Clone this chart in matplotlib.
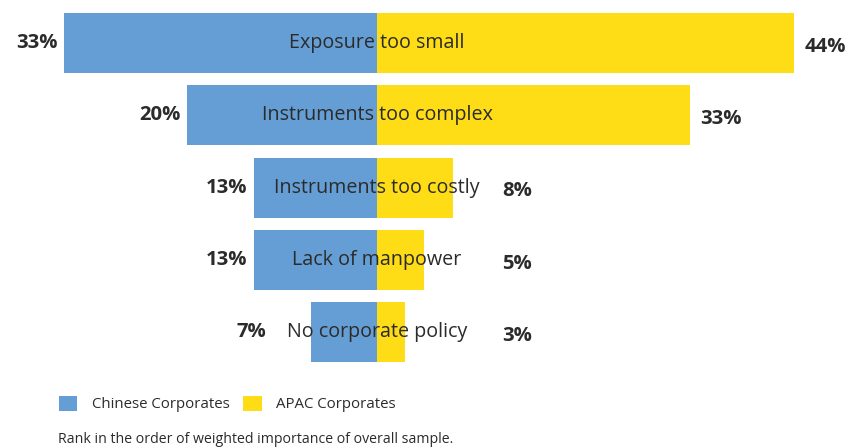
import matplotlib.pyplot as plt
from matplotlib.patches import Patch

categories = ["Exposure too small", "Instruments too complex", "Instruments too costly",
              "Lack of manpower", "No corporate policy"]
chinese = [33, 20, 13, 13, 7]
apac = [44, 33, 8, 5, 3]
legend_labels = ["Chinese Corporates", "APAC Corporates"]
footnote = "Rank in the order of weighted importance of overall sample."

blue = "#659ed5"
yellow = "#fedd17"
dark = "#2b2b2b"

plt.rcParams["font.family"] = ["Open Sans", "DejaVu Sans"]

fig = plt.figure(figsize=(8.48, 4.48), dpi=100)
ax = fig.add_axes([0, 0, 1, 1])

px = 9.48   # pixels per percent
pitch = 72.3
ax.set_xlim(-377 / px, (848 - 377) / px)
ax.set_ylim((448 - 43) / pitch, -43 / pitch)
ax.axis("off")

ypos = list(range(len(categories)))
ax.barh(ypos, [-v for v in chinese], height=0.83, color=blue, edgecolor="none")
ax.barh(ypos, apac, height=0.83, color=yellow, edgecolor="none")

for y, cat, c, a in zip(ypos, categories, chinese, apac):
    ax.text(0, y, cat, ha="center", va="center", fontsize=14.2, color=dark)
    ax.text(-max(c + 0.7, 11.7), y, f"{c}%", ha="right", va="center",
            fontsize=14.6, fontweight="bold", color=dark)
    ax.text(max(a + 1.1, 13.2), y + 0.05, f"{a}%", ha="left", va="center",
            fontsize=14.6, fontweight="bold", color=dark)

handles = [Patch(facecolor=blue, edgecolor="none"), Patch(facecolor=yellow, edgecolor="none")]
fig.legend(handles, legend_labels, loc="center left", bbox_to_anchor=(45 / 848, 1 - 404 / 448),
           ncol=2, frameon=False, fontsize=10.8, labelcolor=dark,
           handlelength=1.25, handleheight=1.25, handletextpad=0.95, columnspacing=0.9)

fig.text(58 / 848, 1 - 439 / 448, footnote, ha="left", va="center", fontsize=10.2, color=dark)

fig.savefig("out.png", dpi=100)
